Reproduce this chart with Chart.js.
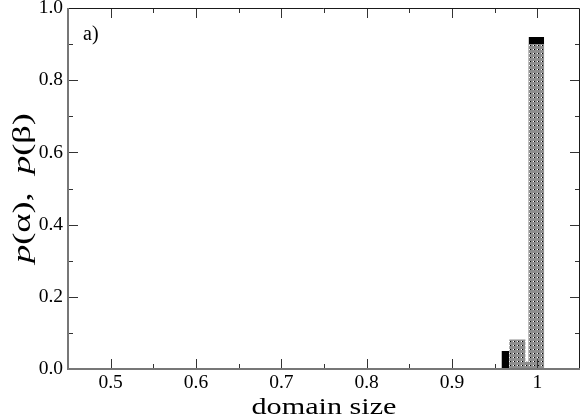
<!DOCTYPE html>
<html>
<head>
<meta charset="utf-8">
<script src="https://cdn.jsdelivr.net/npm/chart.js@4.4.1/dist/chart.umd.min.js"></script>
<style>
  html, body { margin: 0; padding: 0; background: #fff; }
</style>
</head>
<body>
<canvas id="chart" width="581" height="416"></canvas>
<script>
// histogram bins: bin edges + bar heights
const alphaEdges = [0.958, 0.967, 0.990, 1.008];
const alphaHeights = [0.05, 0, 0.92];
const betaEdges = [0.967, 0.986, 0.990, 1.008];
const betaHeights = [0.082, 0.02, 0.90];

const xTickLabels = ['0.5', '0.6', '0.7', '0.8', '0.9', '1'];
const yTickLabels = ['0.0', '0.2', '0.4', '0.6', '0.8', '1.0'];
const panelLabel = 'a)';
const xTitle = 'domain size';
const yTitleParts = [['p', true], ['(\u03b1),  ', false], ['p', true], ['(\u03b2)', false]];

const serif = '"Liberation Serif", "Times New Roman", serif';

// stepped-line points: each point's y holds until the next edge
function steps(edges, heights) {
  return edges.map((e, i) => ({ x: e, y: i < heights.length ? heights[i] : 0 }));
}

function labelFor(list, v) {
  const hit = list.find(l => Math.abs(parseFloat(l) - v) < 1e-6);
  return hit === undefined ? '' : hit;
}

// grey fill with white/black dots, like the grace pattern
function checker() {
  const c = document.createElement('canvas');
  c.width = 4; c.height = 4;
  const g = c.getContext('2d');
  g.fillStyle = '#8e8e8e'; g.fillRect(0, 0, 4, 4);
  g.fillStyle = '#fff'; g.fillRect(1, 1, 1, 1);
  g.fillStyle = '#000'; g.fillRect(2, 1, 1, 1);
  return g.createPattern(c, 'repeat');
}

// keep the plot box where the figure has it
function noPad(s) {
  s.paddingTop = 0; s.paddingBottom = 0; s.paddingLeft = 0; s.paddingRight = 0;
}

// frame, inward ticks and titles
const decor = {
  id: 'decor',
  afterDraw(chart) {
    const { ctx, chartArea: a, scales: { x, y } } = chart;
    ctx.save();

    ctx.strokeStyle = '#333';
    ctx.lineWidth = 1;
    ctx.beginPath();
    x.ticks.forEach(t => {
      if (t.value <= x.min + 1e-9 || t.value >= x.max - 1e-9) return;
      const p = Math.round(x.getPixelForValue(t.value)) + 0.5;
      const len = t.label ? 10 : 5;
      ctx.moveTo(p, a.bottom); ctx.lineTo(p, a.bottom - len);
      ctx.moveTo(p, a.top); ctx.lineTo(p, a.top + len);
    });
    y.ticks.forEach(t => {
      if (t.value <= y.min + 1e-9 || t.value >= y.max - 1e-9) return;
      const p = Math.round(y.getPixelForValue(t.value)) + 0.5;
      const len = t.label ? 10 : 5;
      ctx.moveTo(a.left, p); ctx.lineTo(a.left + len, p);
      ctx.moveTo(a.right, p); ctx.lineTo(a.right - len, p);
    });
    ctx.stroke();

    // frame
    ctx.strokeStyle = '#1a1a1a';
    ctx.lineWidth = 1;
    ctx.beginPath();
    ctx.moveTo(a.left, a.top + 0.5); ctx.lineTo(a.right - 0.5, a.top + 0.5); ctx.lineTo(a.right - 0.5, a.bottom);
    ctx.stroke();
    ctx.strokeStyle = '#777';
    ctx.lineWidth = 2;
    ctx.beginPath();
    ctx.moveTo(a.left, a.top); ctx.lineTo(a.left, a.bottom); ctx.lineTo(a.right, a.bottom);
    ctx.stroke();

    ctx.fillStyle = '#000';

    // panel label
    ctx.font = '20px ' + serif;
    ctx.textAlign = 'left';
    ctx.textBaseline = 'alphabetic';
    ctx.fillText(panelLabel, a.left + 15, a.top + 32);

    // x title (stretched a little, as in the figure)
    ctx.save();
    ctx.font = '24px ' + serif;
    const xw = ctx.measureText(xTitle).width;
    ctx.translate((a.left + a.right) / 2, 414);
    ctx.scale(145 / xw, 1);
    ctx.textAlign = 'center';
    ctx.fillText(xTitle, 0, 0);
    ctx.restore();

    // y title with italic p
    ctx.save();
    const fonts = yTitleParts.map(([, it]) => (it ? 'italic ' : '') + '25px ' + serif);
    let total = 0;
    const widths = yTitleParts.map(([t], i) => { ctx.font = fonts[i]; const w = ctx.measureText(t).width; total += w; return w; });
    ctx.translate(30, 188);
    ctx.rotate(-Math.PI / 2);
    ctx.scale(150 / total, 1);
    ctx.textAlign = 'left';
    let cx = -total / 2;
    yTitleParts.forEach(([t], i) => { ctx.font = fonts[i]; ctx.fillText(t, cx, 0); cx += widths[i]; });
    ctx.restore();

    ctx.restore();
  }
};

new Chart(document.getElementById('chart'), {
  type: 'line',
  data: {
    datasets: [
      {
        label: 'p(\u03b2)',
        data: steps(betaEdges, betaHeights),
        stepped: 'before',
        fill: 'origin',
        backgroundColor: checker(),
        borderColor: 'rgba(0,0,0,0)',
        borderWidth: 0,
        pointRadius: 0
      },
      {
        label: 'p(\u03b1)',
        data: steps(alphaEdges, alphaHeights),
        stepped: 'before',
        fill: 'origin',
        backgroundColor: '#000',
        borderColor: 'rgba(0,0,0,0)',
        borderWidth: 0,
        pointRadius: 0
      }
    ]
  },
  options: {
    responsive: false,
    animation: false,
    layout: { padding: { top: 8, right: 1, left: 0, bottom: 0 } },
    plugins: { legend: { display: false }, tooltip: { enabled: false } },
    scales: {
      x: {
        type: 'linear',
        min: 0.45,
        max: 1.05,
        afterFit: s => { s.height = 47; noPad(s); },
        grid: { display: false, drawTicks: false, tickLength: 0 },
        border: { display: false },
        ticks: {
          stepSize: 0.05,
          autoSkip: false,
          maxRotation: 0,
          padding: 6,
          color: '#000',
          font: { family: serif, size: 19.5, lineHeight: 0.8 },
          callback: v => labelFor(xTickLabels, v)
        }
      },
      y: {
        type: 'linear',
        min: 0,
        max: 1,
        afterFit: s => { s.width = 68; noPad(s); },
        grid: { display: false, drawTicks: false, tickLength: 0 },
        border: { display: false },
        ticks: {
          stepSize: 0.1,
          autoSkip: false,
          padding: 5,
          color: '#000',
          font: { family: serif, size: 19.5, lineHeight: 0.8 },
          callback: v => labelFor(yTickLabels, v)
        }
      }
    }
  },
  plugins: [decor]
});
</script>
</body>
</html>
